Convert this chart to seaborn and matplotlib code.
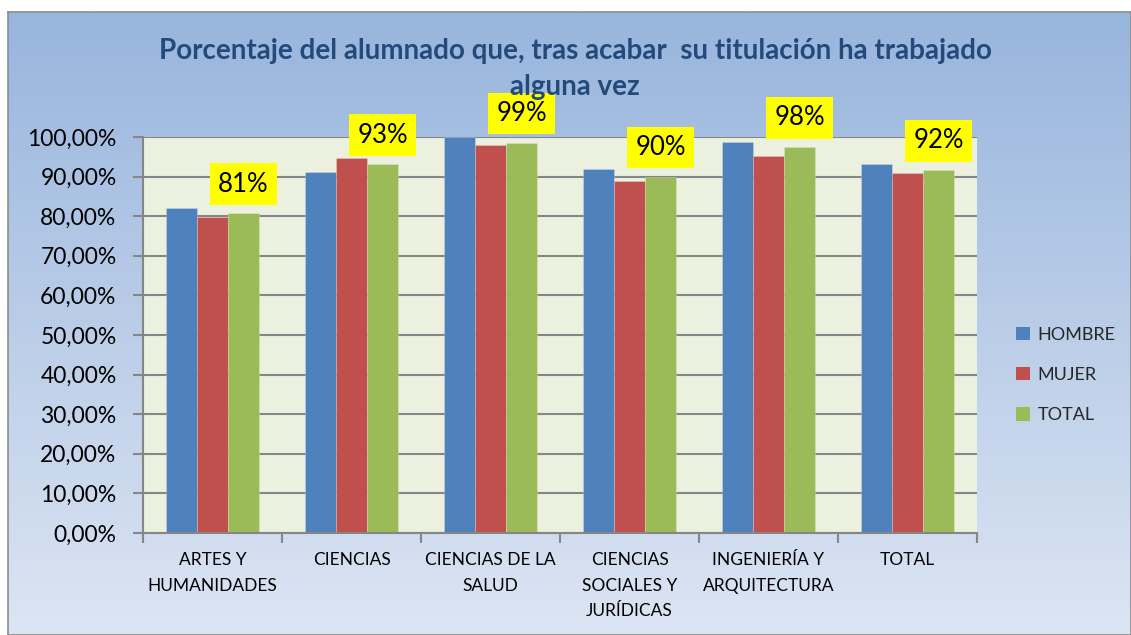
import matplotlib
matplotlib.use("Agg")
import matplotlib.pyplot as plt
import matplotlib.colors as mcolors
from matplotlib.patches import Patch
from matplotlib.ticker import FixedLocator, FuncFormatter
import numpy as np
import pandas as pd
import seaborn as sns

categorias = [
    "ARTES Y\nHUMANIDADES",
    "CIENCIAS",
    "CIENCIAS DE LA\nSALUD",
    "CIENCIAS\nSOCIALES Y\nJURÍDICAS",
    "INGENIERÍA Y\nARQUITECTURA",
    "TOTAL",
]
series = ["HOMBRE", "MUJER", "TOTAL"]
hombre = [82.1, 91.2, 99.9, 91.8, 98.7, 93.2]
mujer = [79.8, 94.7, 98.0, 89.0, 95.2, 90.9]
total = [80.8, 93.2, 98.6, 90.0, 97.5, 91.7]
etiquetas = ["81%", "93%", "99%", "90%", "98%", "92%"]
colores = ["#4F81BD", "#C0504D", "#9BBB59"]

titulo = "Porcentaje del alumnado que, tras acabar  su titulación ha trabajado\nalguna vez"

df = pd.DataFrame({
    "categoria": categorias * 3,
    "serie": [s for s in series for _ in categorias],
    "valor": hombre + mujer + total,
})

sns.set_theme(style="white")
plt.rcParams["font.family"] = ["Lato", "DejaVu Sans"]

W, H = 1131, 635
fig = plt.figure(figsize=(W / 100, H / 100), dpi=100)
fig.patch.set_facecolor("white")

# fondo degradado del grafico
bg = fig.add_axes([8 / W, 0, 1 - 8 / W, 1 - 12 / H], zorder=-10)
cmap = mcolors.LinearSegmentedColormap.from_list("bg", ["#98B5DD", "#DCE5F3"])
grad = np.linspace(0, 1, 256).reshape(-1, 1)
bg.imshow(grad, aspect="auto", cmap=cmap, extent=[0, 1, 0, 1])
bg.set_xticks([])
bg.set_yticks([])
for s in bg.spines.values():
    s.set_color("#8C8C8C")
    s.set_linewidth(1.2)

ax = fig.add_axes([143 / W, 1 - 533 / H, (977 - 143) / W, (533 - 137) / H])
ax.set_facecolor("#EBF1DE")

sns.barplot(
    data=df, x="categoria", y="valor", hue="serie",
    palette=colores, width=0.67, saturation=1, ax=ax,
    edgecolor="#FFFFFF40", linewidth=0.6,
)

ax.set_ylim(0, 100)
ax.set_xlim(-0.5, len(categorias) - 0.5)
ax.yaxis.set_major_locator(FixedLocator(np.arange(0, 101, 10)))
ax.yaxis.set_major_formatter(FuncFormatter(lambda v, p: f"{v:.2f}".replace(".", ",") + "%"))
ax.grid(axis="y", color="#868686", linewidth=1.5)
ax.set_axisbelow(True)

ax.set_xticks(range(len(categorias)))
ax.set_xticklabels(categorias, fontsize=12.5, linespacing=1.7, va="top")
ax.xaxis.set_minor_locator(FixedLocator(np.arange(-0.5, len(categorias), 1)))
ax.tick_params(axis="x", which="major", length=0, pad=14)
ax.tick_params(axis="x", which="minor", length=7, width=1.5, color="#868686", bottom=True)
ax.tick_params(axis="y", length=7, width=1.5, color="#868686", left=True, labelsize=16.5, pad=12)
for lab in ax.get_yticklabels() + ax.get_xticklabels():
    lab.set_color("black")

ax.set_xlabel("")
ax.set_ylabel("")
for side in ["top", "right"]:
    ax.spines[side].set_visible(False)
for side in ["left", "bottom"]:
    ax.spines[side].set_color("#868686")
    ax.spines[side].set_linewidth(1.5)

# etiquetas amarillas sobre la serie TOTAL
ancho = 0.67 / 3
for i, (v, t) in enumerate(zip(total, etiquetas)):
    ax.text(i + ancho, v + 7.3, t, ha="center", va="center", fontsize=18.5,
            color="black", zorder=5,
            bbox=dict(facecolor="#FFFF00", edgecolor="none", boxstyle="square,pad=0.32"))

ax.get_legend().remove()
handles = [Patch(facecolor=c, edgecolor="none") for c in colores]
fig.legend(handles, series, loc="center left", bbox_to_anchor=(1016 / W, 1 - 375 / H),
           frameon=False, fontsize=13, handlelength=0.75, handleheight=0.75,
           handletextpad=0.45, labelspacing=1.35, borderpad=0, borderaxespad=0)

fig.text(575 / W, 1 - 69 / H, titulo, ha="center", va="center", fontsize=20,
         fontweight="bold", color="#244A7C", linespacing=1.45)

fig.savefig("out.png", dpi=100)
